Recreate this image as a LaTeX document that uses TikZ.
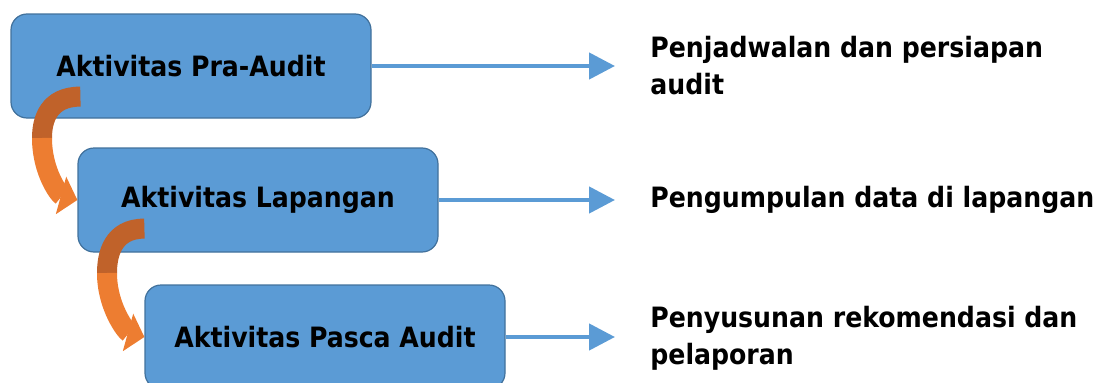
\documentclass[tikz,border=0pt]{standalone}
\usepackage{fontspec}
\setmainfont{DejaVu Sans Condensed}
\usetikzlibrary{arrows.meta,positioning,calc}
\definecolor{boxblue}{HTML}{5B9BD5}
\definecolor{boxline}{HTML}{41719C}
\definecolor{orangearr}{HTML}{ED7D31}
\definecolor{orangedark}{HTML}{C0622A}

\begin{document}
\begin{tikzpicture}[x=1pt, y=1pt, thick, font=\fontsize{28}{37}\selectfont\bfseries,
  aktivitas/.style={rectangle, rounded corners=16pt, draw=boxline, line width=1.2pt, fill=boxblue, minimum width=360pt, minimum height=104pt},
  keterangan/.style={anchor=west, align=left, inner sep=0pt},
  panah/.style={draw=boxblue, line width=4.5pt, -{Triangle[length=26pt,width=26pt]}, shorten >=35pt},
  lengkung/.style={line width=20pt, draw=orangearr}]
  \useasboundingbox (0,0) rectangle (1101,-383);
  \clip (0,0) rectangle (1101,-383);

  \node[aktivitas] (pra) at (191,-66) {Aktivitas Pra-Audit};
  \node[aktivitas] (lap) at (258,-200) {Aktivitas Lapangan};
  \node[aktivitas] (pasca) at (325,-337) {Aktivitas Pasca Audit};

  \node[keterangan] (ket1) at (650,-66) {Penjadwalan dan persiapan\\audit};
  \node[keterangan] (ket2) at (650,-200) {Pengumpulan data di lapangan};
  \node[keterangan] (ket3) at (650,-338) {Penyusunan rekomendasi dan\\pelaporan};

  \draw[panah] (pra.east) -- (pra.east -| ket1.west);
  \draw[panah] (lap.east) -- (lap.east -| ket2.west);
  \draw[panah] (pasca.east) -- (pasca.east -| ket3.west);

  % lengkung dari kotak ke kotak
  \coordinate (a1) at ($(pra.south west)+(70,22)$);
  \coordinate (b1) at (42,-138);
  \coordinate (a2) at ($(lap.south west)+(67,24)$);
  \coordinate (b2) at (107,-273);
  \draw[lengkung, draw=orangedark] (a1) .. controls +(-32,0) and +(0,18) .. (b1);
  \draw[lengkung, -{Triangle[length=17pt,width=38pt]}] (b1) .. controls +(0,-34) and +(-18,5) .. (lap.west);
  \draw[lengkung, draw=orangedark] (a2) .. controls +(-32,0) and +(0,18) .. (b2);
  \draw[lengkung, -{Triangle[length=17pt,width=38pt]}] (b2) .. controls +(0,-34) and +(-18,5) .. (pasca.west);
\end{tikzpicture}
\end{document}
